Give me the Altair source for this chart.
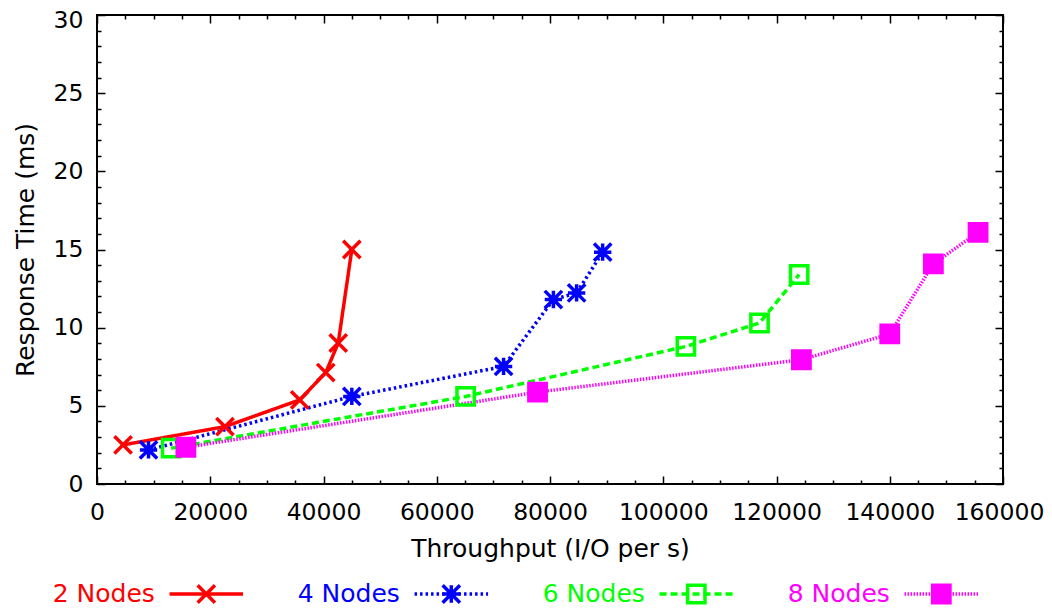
import altair as alt
import pandas as pd

series = ["2 Nodes", "4 Nodes", "6 Nodes", "8 Nodes"]
colors = ["#ff0000", "#0000ff", "#00ff00", "#ff00ff"]

x_2 = [4600, 22600, 35800, 40400, 42600, 45000]
y_2 = [2.5, 3.67, 5.38, 7.13, 9.02, 15.0]
x_4 = [9100, 45000, 71800, 80600, 84700, 89300]
y_4 = [2.18, 5.6, 7.52, 11.8, 12.22, 14.83]
x_6 = [13100, 65100, 104000, 117000, 124000]
y_6 = [2.29, 5.6, 8.8, 10.3, 13.4]
x_8 = [15700, 77800, 124400, 140000, 147700, 155600]
y_8 = [2.35, 5.88, 7.95, 9.6, 14.08, 16.1]

x_ticks = list(range(0, 160001, 5000))
y_ticks = list(range(0, 31, 1))

rows = []
for name, xs, ys in zip(series, [x_2, x_4, x_6, x_8], [y_2, y_4, y_6, y_8]):
    for k, (xv, yv) in enumerate(zip(xs, ys)):
        rows.append({"series": name, "x": xv, "y": yv, "k": k})
df = pd.DataFrame(rows)

FONT = "DejaVu Sans"
FS = 23.5
TFS = 25

color_scale = alt.Scale(domain=series, range=colors)
dash_scale = alt.Scale(domain=series, range=[[1, 0], [2.5, 3], [7, 4], [1.5, 1.5]])
shape_scale = alt.Scale(
    domain=series,
    range=[
        "M-1,-1L1,1M-1,1L1,-1",
        "M-1,0L1,0M0,-1L0,1M-1,-1L1,1M-1,1L1,-1",
        "square",
        "square",
    ],
)
fill_scale = alt.Scale(domain=series, range=["transparent", "transparent", "transparent", "#ff00ff"])
size_scale = alt.Scale(domain=series, range=[300, 300, 361, 256])

xscale = alt.Scale(domain=[0, 160000], nice=False, zero=False)
yscale = alt.Scale(domain=[0, 30], nice=False, zero=False)

x_axis = alt.Axis(
    values=x_ticks,
    format="d",
    labelExpr="datum.value % 20000 === 0 ? datum.label : ''",
    grid=True,
    gridColor="black",
    gridWidth=1.5,
    gridOpacity=1,
    gridDash={"condition": {"test": "datum.value % 20000 === 0", "value": [8, 453]}, "value": [4, 461]},
    ticks=False,
    tickSize=0,
    domain=False,
    labelPadding=16,
    labelFlush=False,
    labelOverlap=False,
    labelOffset={"condition": {"test": "datum.value === 160000", "value": -4}, "value": 0},
    title="Throughput (I/O per s)",
    titlePadding=13,
)
y_axis = alt.Axis(
    values=y_ticks,
    labelExpr="datum.value % 5 === 0 ? datum.label : ''",
    grid=True,
    gridColor="black",
    gridWidth=1.5,
    gridOpacity=1,
    gridDash={"condition": {"test": "datum.value % 5 === 0", "value": [8, 890]}, "value": [4, 898]},
    ticks=False,
    tickSize=0,
    domain=False,
    labelPadding=14,
    labelFlush=False,
    labelOverlap=False,
    labelOffset={"condition": {"test": "datum.value === 30", "value": 5}, "value": 0},
    title="Response Time (ms)",
    titlePadding=15,
)

base = alt.Chart(df)
lines = base.mark_line(strokeWidth=3.5).encode(
    x=alt.X("x:Q", scale=xscale, axis=x_axis),
    y=alt.Y("y:Q", scale=yscale, axis=y_axis),
    color=alt.Color("series:N", scale=color_scale, legend=None),
    strokeDash=alt.StrokeDash("series:N", scale=dash_scale, legend=None),
    order="k:Q",
)
points = base.mark_point(strokeWidth=3.5, opacity=1).encode(
    x=alt.X("x:Q", scale=xscale, axis=x_axis),
    y=alt.Y("y:Q", scale=yscale, axis=y_axis),
    stroke=alt.Stroke("series:N", scale=color_scale, legend=None),
    fill=alt.Fill("series:N", scale=fill_scale, legend=None),
    shape=alt.Shape("series:N", scale=shape_scale, legend=None),
    size=alt.Size("series:N", scale=size_scale, legend=None),
)
main = alt.layer(lines, points)

# legend built from the series list
leg = pd.DataFrame({"series": series, "i": list(range(len(series)))})
leg["tx"] = leg["i"] + 0.53
leg["l1"] = leg["i"] + 0.59
leg["l2"] = leg["i"] + 0.89
leg["mx"] = leg["i"] + 0.74
lscale = alt.Scale(domain=[0, 4], range=[-72, 908], nice=False, zero=False)
LY = 579
lb = alt.Chart(leg)
leg_text = lb.mark_text(align="right", baseline="middle", font=FONT, fontSize=TFS).encode(
    x=alt.X("tx:Q", scale=lscale, axis=None),
    y=alt.value(LY),
    text="series:N",
    color=alt.Color("series:N", scale=color_scale, legend=None),
)
leg_line = lb.mark_rule(strokeWidth=3.5).encode(
    x=alt.X("l1:Q", scale=lscale, axis=None),
    x2="l2:Q",
    y=alt.value(LY),
    color=alt.Color("series:N", scale=color_scale, legend=None),
    strokeDash=alt.StrokeDash("series:N", scale=dash_scale, legend=None),
)
leg_pt = lb.mark_point(strokeWidth=3.5, opacity=1).encode(
    x=alt.X("mx:Q", scale=lscale, axis=None),
    y=alt.value(LY),
    stroke=alt.Stroke("series:N", scale=color_scale, legend=None),
    fill=alt.Fill("series:N", scale=fill_scale, legend=None),
    shape=alt.Shape("series:N", scale=shape_scale, legend=None),
    size=alt.Size("series:N", scale=size_scale, legend=None),
)
legend = alt.layer(leg_line, leg_pt, leg_text)

chart = (
    alt.layer(main, legend)
    .resolve_scale(x="independent")
    .properties(
        width=906,
        height=469,
        autosize=alt.AutoSizeParams(type="none"),
        padding={"left": 89, "top": 7, "right": 41, "bottom": 123},
    )
    .configure_view(stroke="black", strokeWidth=2)
    .configure_axis(
        labelFont=FONT,
        labelFontSize=FS,
        labelColor="black",
        titleFont=FONT,
        titleFontSize=TFS,
        titleFontWeight="normal",
        titleColor="black",
    )
)

chart.save("out.html", embed_options={"renderer": "svg", "actions": False})
